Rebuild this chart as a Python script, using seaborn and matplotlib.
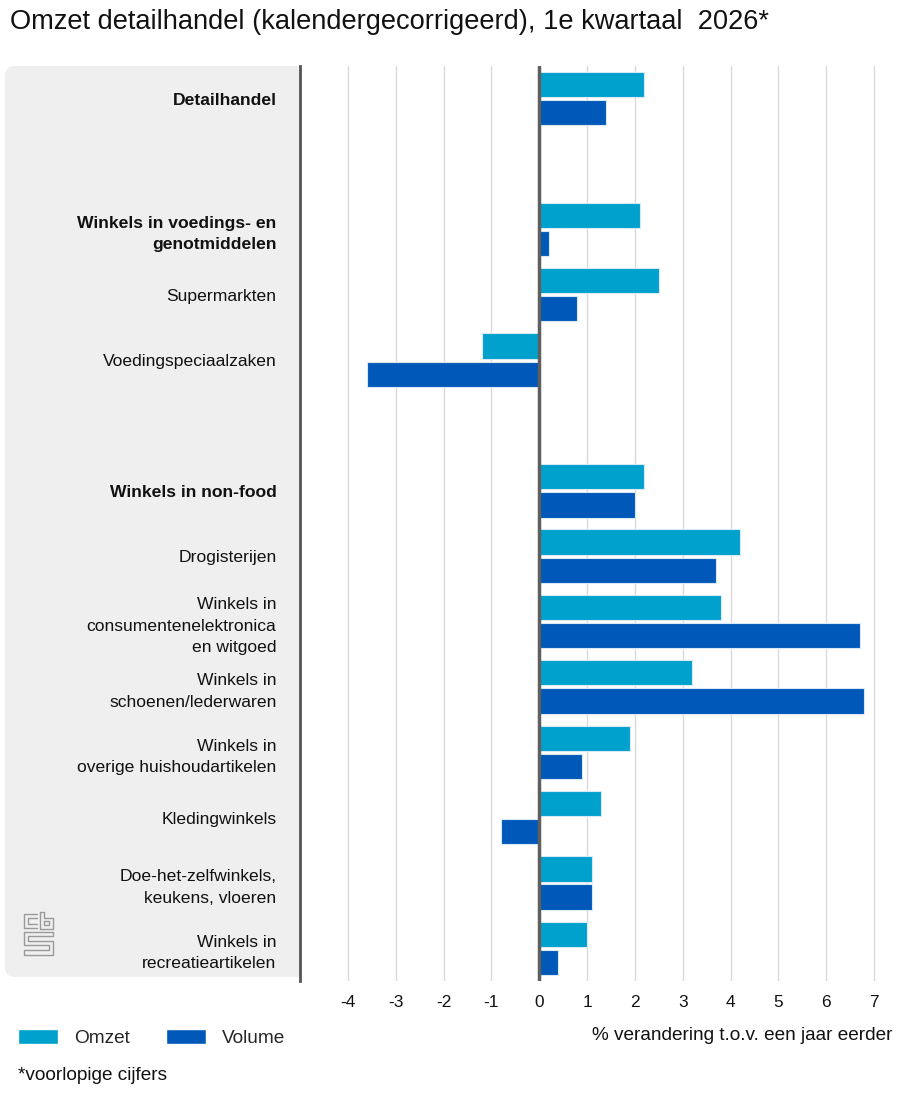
import matplotlib
matplotlib.use("Agg")
import matplotlib.pyplot as plt
import pandas as pd
import seaborn as sns
from matplotlib.patches import FancyBboxPatch, Patch
from matplotlib.lines import Line2D

# ---------------- data ----------------
categories = [
    "Detailhandel",
    "Winkels in voedings- en\ngenotmiddelen",
    "Supermarkten",
    "Voedingspeciaalzaken",
    "Winkels in non-food",
    "Drogisterijen",
    "Winkels in\nconsumentenelektronica\nen witgoed",
    "Winkels in\nschoenen/lederwaren",
    "Winkels in\noverige huishoudartikelen",
    "Kledingwinkels",
    "Doe-het-zelfwinkels,\nkeukens, vloeren",
    "Winkels in\nrecreatieartikelen",
]
bold_categories = ["Detailhandel", "Winkels in voedings- en\ngenotmiddelen", "Winkels in non-food"]
omzet = [2.2, 2.1, 2.5, -1.2, 2.2, 4.2, 3.8, 3.2, 1.9, 1.3, 1.1, 1.0]
volume = [1.4, 0.2, 0.8, -3.6, 2.0, 3.7, 6.7, 6.8, 0.9, -0.8, 1.1, 0.4]
series = ["Omzet", "Volume"]
colors = ["#00A1CD", "#0058B8"]
x_ticks = [-4, -3, -2, -1, 0, 1, 2, 3, 4, 5, 6, 7]

# display order with empty spacer rows
order = [categories[0], " ", categories[1], categories[2], categories[3], "  "] + categories[4:]

rows = []
for c, o, v in zip(categories, omzet, volume):
    rows.append({"categorie": c, "reeks": series[0], "waarde": o})
    rows.append({"categorie": c, "reeks": series[1], "waarde": v})
df = pd.DataFrame(rows)

# ---------------- figure ----------------
sns.set_theme(style="white")
plt.rcParams["font.family"] = ["Liberation Sans", "DejaVu Sans"]

W, H = 905, 1100
fig = plt.figure(figsize=(W / 100, H / 100), dpi=100)

ax_left, ax_right = 300, 886
ax_top, ax_bottom = 66, 981
ax = fig.add_axes([ax_left / W, 1 - ax_bottom / H, (ax_right - ax_left) / W, (ax_bottom - ax_top) / H])
ax.set_facecolor("white")

sns.barplot(
    data=df, x="waarde", y="categorie", hue="reeks", order=order,
    hue_order=series, palette=colors, saturation=1, orient="h", width=0.86, gap=0.1,
    edgecolor="#d8e8f5", linewidth=0.8, legend=False, ax=ax, zorder=2,
)

ax.set_xlim(-5, 7.25)
ax.set_ylim(len(order) - 0.5, -0.5)
ax.set_xticks(x_ticks)
ax.set_xticklabels([str(t) for t in x_ticks])
ax.xaxis.grid(True, color="#dadada", lw=1.0, zorder=0)
ax.yaxis.grid(False)
ax.set_axisbelow(True)
ax.axvline(0, color="#5f5f5f", lw=2.5, zorder=4)

for s in ["top", "right", "bottom"]:
    ax.spines[s].set_visible(False)
ax.spines["left"].set_color("#555555")
ax.spines["left"].set_linewidth(2)

ax.set_xlabel("")
ax.set_ylabel("")
ax.tick_params(axis="x", length=0, pad=10, labelsize=12.4, labelcolor="#111111")
ax.tick_params(axis="y", length=0, pad=17, labelsize=12.6, labelcolor="#111111")
for lab in ax.get_yticklabels():
    if lab.get_text() in bold_categories:
        lab.set_fontweight("bold")
    lab.set_linespacing(1.55)

# grey label panel (inches coordinates)
panel = FancyBboxPatch(
    (0.05, (H - 977) / 100), 3.2, (977 - 66) / 100,
    boxstyle="round,pad=0,rounding_size=0.1",
    transform=fig.dpi_scale_trans, facecolor="#efefef", edgecolor="none", zorder=-1,
)
fig.add_artist(panel)

# small CBS logo outline
def px(pts):
    xs = [p[0] / 100 for p in pts]
    ys = [(H - p[1]) / 100 for p in pts]
    return xs, ys

logo_parts = [
    [(37, 914), (24, 914), (24, 928), (37, 928)],
    [(37, 918), (28, 918), (28, 924), (37, 924)],
    [(40, 912), (40, 929), (53, 929), (53, 918), (44, 918), (44, 912), (40, 912)],
    [(44, 921), (49, 921), (49, 925), (44, 925), (44, 921)],
    [(53, 932), (24, 932), (24, 945), (49, 945), (49, 950), (24, 950), (24, 955),
     (53, 955), (53, 941), (28, 941), (28, 936), (53, 936), (53, 932)],
]
for part in logo_parts:
    xs, ys = px(part)
    fig.add_artist(Line2D(xs, ys, transform=fig.dpi_scale_trans, color="#9a9a9a", lw=1.0, zorder=1))

# texts
fig.text(10 / W, 1 - 22 / H, "Omzet detailhandel (kalendergecorrigeerd), 1e kwartaal  2026*",
         ha="left", va="center", fontsize=19.6, color="#111111")
fig.text(892 / W, 1 - 1035 / H, "% verandering t.o.v. een jaar eerder",
         ha="right", va="center", fontsize=13.7, color="#111111")
fig.text(18 / W, 1 - 1075 / H, "*voorlopige cijfers",
         ha="left", va="center", fontsize=13.7, color="#111111")

handles = [Patch(facecolor=colors[0], label=series[0]), Patch(facecolor=colors[1], label=series[1])]
fig.legend(handles=handles, loc="center left", bbox_to_anchor=(18 / W, 1 - 1038 / H), ncol=2,
           frameon=False, fontsize=13.7, handlelength=2.1, handleheight=0.85,
           handletextpad=0.85, columnspacing=1.9, borderaxespad=0, borderpad=0)

fig.savefig("out.png", dpi=100)
